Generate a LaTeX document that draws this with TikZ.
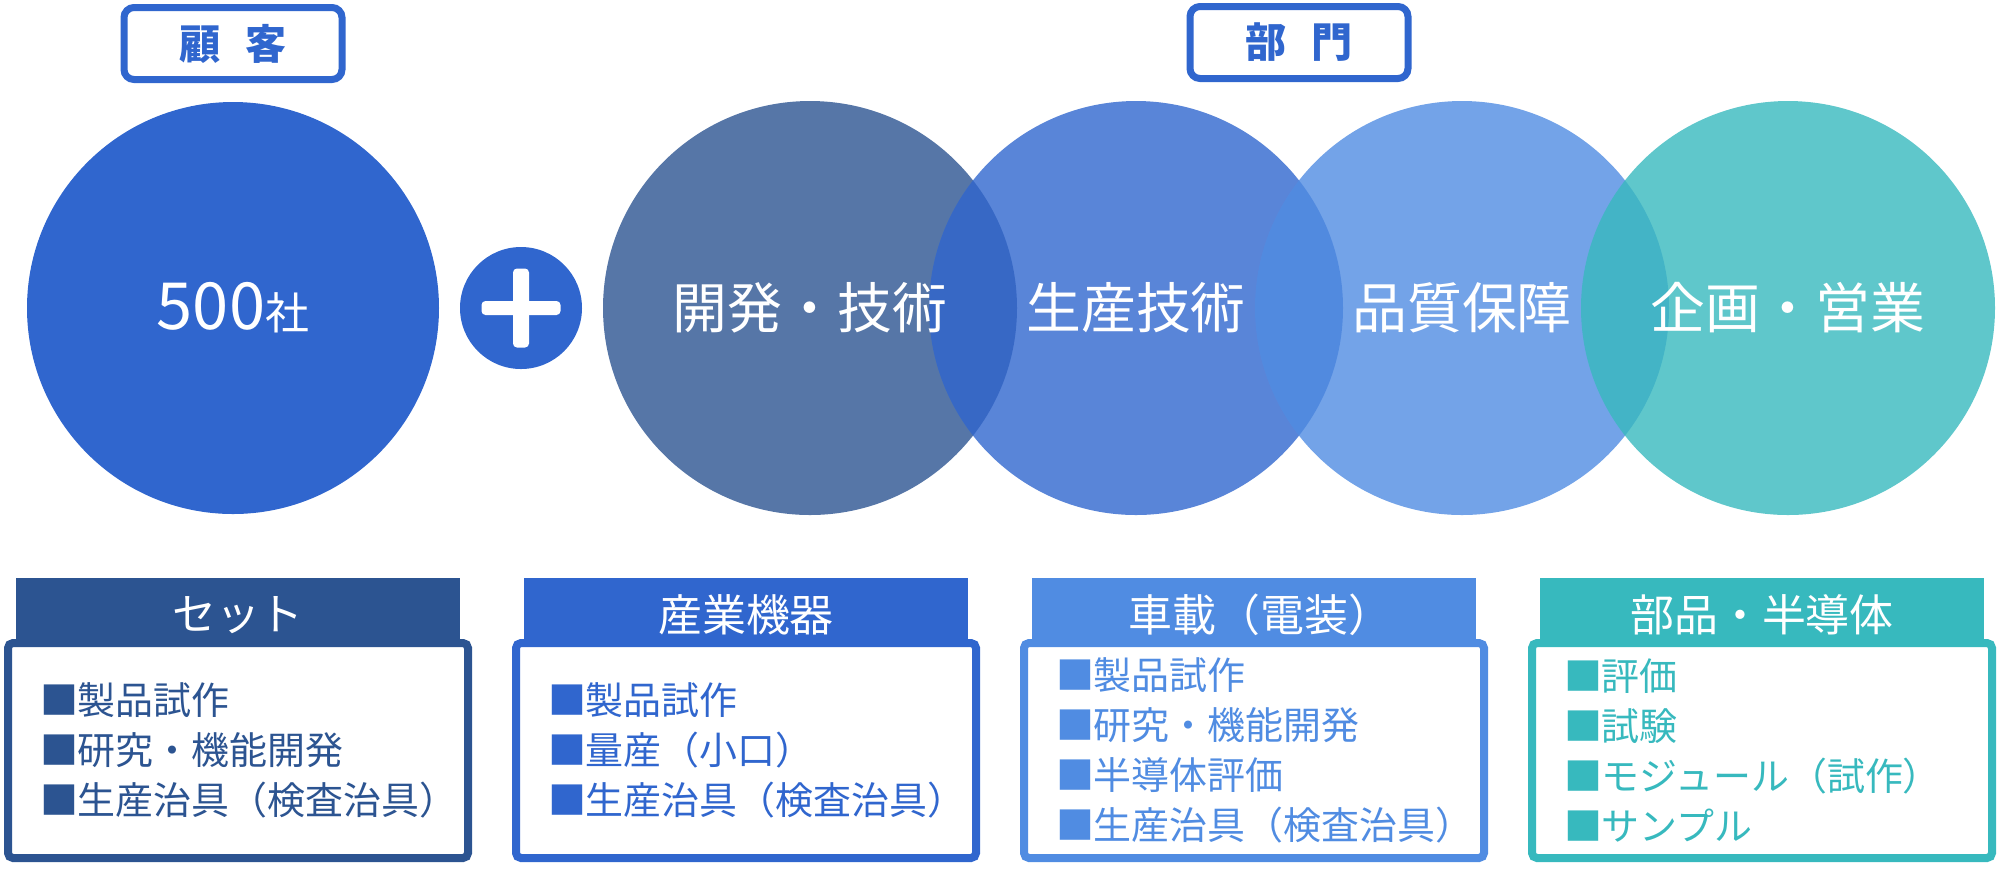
\documentclass[tikz,border=0pt]{standalone}
\usepackage{fontspec}
\setmainfont{Noto Sans CJK JP}
\usetikzlibrary{positioning,calc}

\definecolor{setblue}{RGB}{44,84,145}
\definecolor{indblue}{RGB}{48,102,206}
\definecolor{carblue}{RGB}{80,140,226}
\definecolor{partteal}{RGB}{55,185,190}
\newcommand{\hdtext}[1]{\raisebox{-0.65mm}[\height][\depth]{#1}}

\begin{document}
\begin{tikzpicture}[
  node distance=4mm,
  bigcirc/.style={circle, fill=#1, text=white, minimum size=4.12cm, inner sep=0pt, outer sep=0pt},
  dept/.style={circle, fill=#1, fill opacity=0.8, minimum size=4.14cm, inner sep=0pt, outer sep=0pt},
  dtext/.style={text=white, font=\fontsize{15.6}{18}\selectfont},
  tagbox/.style={draw=indblue, line width=0.7mm, rounded corners=1mm, fill=white, text=indblue, minimum width=2.18cm, minimum height=0.72cm, font=\bfseries\fontsize{11.7}{13}\selectfont},
  headbox/.style={fill=#1, text=white, minimum width=4.44cm, minimum height=0.61cm, inner sep=0pt, outer sep=0pt, font=\fontsize{12.5}{14}\selectfont},
  bodybox/.style={draw=#1, text=#1, line width=0.8mm, rounded corners=0.5mm, fill=white, minimum width=4.6cm, minimum height=2.15cm, text width=3.96cm, inner xsep=3.2mm, align=left, font=\fontsize{10.8}{14.2}\selectfont},
  plusbar/.style={fill=white, rounded corners=0.4mm}
]
\useasboundingbox (0,0) rectangle (20,-8.68);

\node[bigcirc=indblue] (cust) at (2.33,-3.08) {{\fontsize{18.5}{20}\selectfont 500}{\fontsize{12.5}{14}\selectfont 社}};
\node[circle, fill=indblue, minimum size=1.22cm, inner sep=0pt, outer sep=0pt, right=2.1mm of cust] (plus) {};
\fill[plusbar] ([shift={(-0.395,-0.07)}]plus.center) rectangle ([shift={(0.395,0.07)}]plus.center);
\fill[plusbar] ([shift={(-0.08,-0.395)}]plus.center) rectangle ([shift={(0.08,0.395)}]plus.center);

\node[dept=setblue, right=2.1mm of plus] (dev) {};
\node[dept=indblue, right=-8.8mm of dev] (prod) {};
\node[dept=carblue, right=-8.8mm of prod] (qa) {};
\node[dept=partteal, right=-8.8mm of qa] (plan) {};
\node[dtext] (devt) at (dev) {開発・技術};
\node[dtext] (prodt) at (prod) {生産技術};
\node[dtext] (qat) at (qa) {品質保障};
\node[dtext] (plant) at (plan) {企画・営業};

\node[tagbox, above=1.9mm of cust] (custtag) {顧\hspace{0.6em}客};
\coordinate (deptmid) at ($(prod.north)!0.5!(qa.north)$);
\node[tagbox, above=1.9mm of deptmid] (depttag) {部\hspace{0.6em}門};

\node[bodybox=setblue] (set) at (2.38,-7.505) {■製品試作\\■研究・機能開発\\■生産治具（検査治具）};
\node[bodybox=indblue, right=of set] (ind) {■製品試作\\■量産（小口）\\■生産治具（検査治具）};
\node[bodybox=carblue, right=of ind] (car) {■製品試作\\■研究・機能開発\\■半導体評価\\■生産治具（検査治具）};
\node[bodybox=partteal, right=of car] (part) {■評価\\■試験\\■モジュール（試作）\\■サンプル};
\node[headbox=setblue, above=0pt of set] (sethd) {\hdtext{セット}};
\node[headbox=indblue, above=0pt of ind] (indhd) {\hdtext{産業機器}};
\node[headbox=carblue, above=0pt of car] (carhd) {\hdtext{車載（電装）\hspace{-0.3em}}};
\node[headbox=partteal, above=0pt of part] (parthd) {\hdtext{部品・半導体}};
\end{tikzpicture}
\end{document}
